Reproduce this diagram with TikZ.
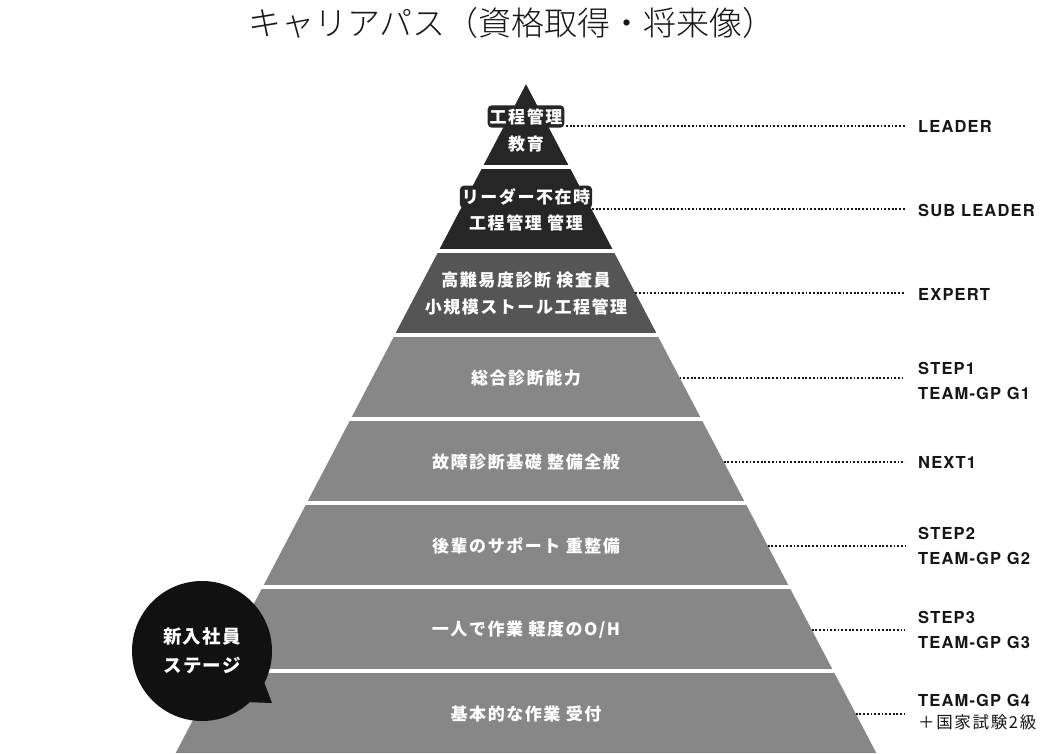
\documentclass[tikz,border=0pt]{standalone}
\usepackage{fontspec}
\usepackage{tikz}
\newfontfamily\jpfont{Noto Sans CJK JP}
\newfontfamily\jptrack[LetterSpace=9]{Noto Sans CJK JP}
\newfontfamily\jpbubble[LetterSpace=7]{Noto Sans CJK JP}
\newfontfamily\jplabel[LetterSpace=10]{Noto Sans CJK JP}
\newfontfamily\jplight{Noto Sans CJK JP Light}
\newfontfamily\lblfont[LetterSpace=7]{TeX Gyre Heros}
\definecolor{topgray}{HTML}{262626}
\definecolor{midgray}{HTML}{555555}
\definecolor{lowgray}{HTML}{878787}
\definecolor{bubblefill}{HTML}{111111}
\definecolor{inkblack}{HTML}{161616}
\tikzset{
  titletext/.style={inner sep=0pt, text=inkblack, font=\jplight\fontsize{33}{33}\selectfont},
  layertext/.style={inner sep=0pt, text=white, align=center,
    font=\jptrack\bfseries\fontsize{17}{26.7}\selectfont},
  pill/.style={layertext, fill=topgray, rounded corners=4pt, inner xsep=2pt, inner ysep=3pt},
  lbl/.style={anchor=west, inner sep=0pt, align=left, text=inkblack,
    font=\lblfont\bfseries\fontsize{16.5}{25}\selectfont},
  dotline/.style={draw=inkblack, line width=1.8pt, dash pattern=on 1.8pt off 1.9pt, shorten >=13pt},
  bubble/.style={circle, fill=bubblefill, minimum size=140pt, inner sep=0pt, outer sep=0pt,
    text=white, align=center, font=\jpbubble\bfseries\fontsize{18.5}{29}\selectfont}
}

\begin{document}
\begin{tikzpicture}[x=1pt,y=-1pt]
    \fill[white] (0,0) rectangle (1052,753);
    \useasboundingbox (0,0) rectangle (1052,753);
    \node[titletext] (title) at (512,23) {キャリアパス（資格取得・将来像）};
    % pyramid
    \fill[lowgray] (526,84.5) -- (175.7,753) -- (876.3,753) -- cycle;
    \fill[midgray] (526,84.5) -- (395,334.5) -- (657,334.5) -- cycle;
    \fill[topgray] (526,84.5) -- (439,250.5) -- (613,250.5) -- cycle;
    \fill[white] (150,164.5) rectangle (900,168.5);
    \fill[white] (150,248.5) rectangle (900,252.5);
    \fill[white] (150,332.5) rectangle (900,336.5);
    \fill[white] (150,416.5) rectangle (900,420.5);
    \fill[white] (150,500.5) rectangle (900,504.5);
    \fill[white] (150,584.5) rectangle (900,588.5);
    \fill[white] (150,668.5) rectangle (900,672.5);
    % layer texts
    \node[pill] (t1a) at (526,116.5) {工程管理};
    \node[layertext] (t1b) at (526,144) {教育};
    \node[pill] (t2a) at (526,197) {リーダー不在時};
    \node[layertext] (t2b) at (526,223.3) {工程管理 管理};
    \node[layertext] (t3) at (526,293.3) {高難易度診断 検査員\\小規模ストール工程管理};
    \node[layertext] (t4) at (526,378) {総合診断能力};
    \node[layertext] (t5) at (526,462) {故障診断基礎 整備全般};
    \node[layertext] (t6) at (526,546) {後輩のサポート 重整備};
    \node[layertext] (t7) at (526,630) {一人で作業 軽度のO/H};
    \node[layertext] (t8) at (526,714) {基本的な作業 受付};
    % right edge points
    \coordinate (e1) at (566,125.7);
    \coordinate (e2) at (592,209.3);
    \coordinate (e3) at (635.4,293.3);
    \coordinate (e4) at (679.6,377.7);
    \coordinate (e5) at (723.7,461.7);
    \coordinate (e6) at (767.7,545.7);
    \coordinate (e7) at (811.7,629.7);
    \coordinate (e8) at (855.7,713.7);
    % grades
    \node[lbl] (l1) at (918,126) {LEADER};
    \node[lbl] (l2) at (918,210) {SUB LEADER};
    \node[lbl] (l3) at (918,294) {EXPERT};
    \node[lbl] (l4) at (918,381) {STEP1\\TEAM-GP G1};
    \node[lbl] (l5) at (918,462) {NEXT1};
    \node[lbl] (l6) at (918,546) {STEP2\\TEAM-GP G2};
    \node[lbl] (l7) at (918,630) {STEP3\\TEAM-GP G3};
    \node[lbl] (l8) at (918,712) {TEAM-GP G4\\[-3pt]{\jplabel\mdseries ＋国家試験2級}};
    \draw[dotline] (e1) -- (e1 -| l1.west);
    \draw[dotline] (e2) -- (e2 -| l2.west);
    \draw[dotline] (e3) -- (e3 -| l3.west);
    \draw[dotline] (e4) -- (e4 -| l4.west);
    \draw[dotline] (e5) -- (e5 -| l5.west);
    \draw[dotline] (e6) -- (e6 -| l6.west);
    \draw[dotline] (e7) -- (e7 -| l7.west);
    \draw[dotline] (e8) -- (e8 -| l8.west);
    % new staff bubble
    \node[bubble] (stage) at (202,651) {新入社員\\ステージ};
    \fill[bubblefill] (stage.-27) -- (272,703) -- (stage.-47) -- cycle;
\end{tikzpicture}
\end{document}
